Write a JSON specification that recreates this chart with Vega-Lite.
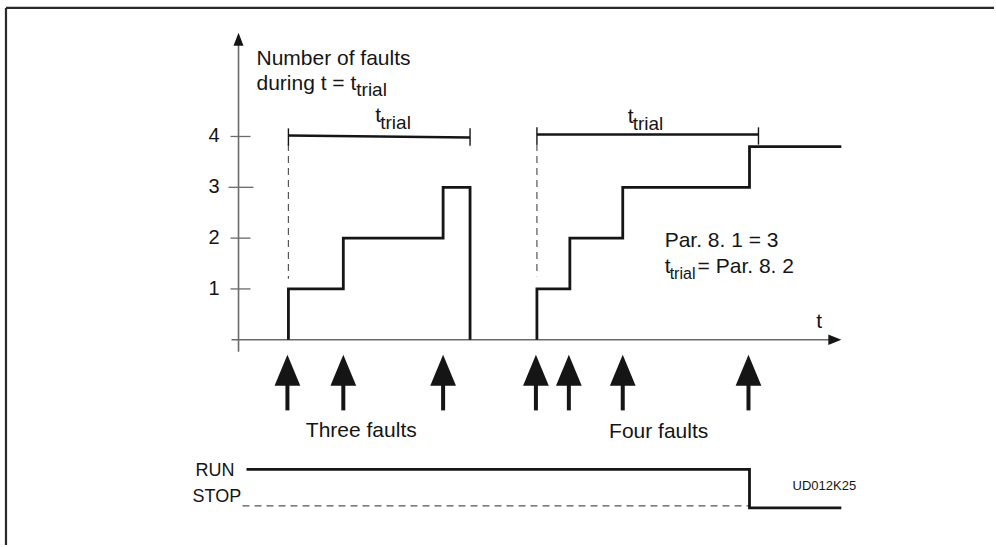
{
  "$schema": "https://vega.github.io/schema/vega-lite/v6.json",
  "width": 996,
  "height": 547,
  "autosize": {"type": "fit", "contains": "padding"},
  "padding": 0,
  "background": "white",
  "config": {"view": {"stroke": null}, "text": {"font": "Liberation Sans", "color": "#151515"}},
  "datasets": {
    "frame": [
      {"x": -23.3, "y": 6.53, "x2": 75.7, "y2": 6.53},
      {"x": -23.3, "y": 6.53, "x2": -23.3, "y2": -4.04}
    ],
    "axes": [
      {"x": 0, "y": -0.235, "x2": 0, "y2": 5.95},
      {"x": -0.7, "y": 0, "x2": 59.6, "y2": 0}
    ],
    "axisTips": [
      {"dir": "up", "x": 0, "y": 5.912},
      {"dir": "right", "x": 59.75, "y": 0}
    ],
    "ticks": [
      {"x": -0.8, "x2": 1.2, "y": 1, "label": "1"},
      {"x": -0.8, "x2": 1.2, "y": 2, "label": "2"},
      {"x": -1.0, "x2": 1.5, "y": 3, "label": "3"},
      {"x": -0.8, "x2": 1.2, "y": 4, "label": "4"}
    ],
    "signals": [
      {"series": "three", "i": 0, "x": 5.0, "y": 0},
      {"series": "three", "i": 1, "x": 5.0, "y": 1},
      {"series": "three", "i": 2, "x": 10.5, "y": 2},
      {"series": "three", "i": 3, "x": 20.5, "y": 3},
      {"series": "three", "i": 4, "x": 23.2, "y": 0},
      {"series": "four", "i": 0, "x": 29.9, "y": 0},
      {"series": "four", "i": 1, "x": 29.9, "y": 1},
      {"series": "four", "i": 2, "x": 33.2, "y": 2},
      {"series": "four", "i": 3, "x": 38.5, "y": 3},
      {"series": "four", "i": 4, "x": 51.2, "y": 3.8},
      {"series": "four", "i": 5, "x": 60.4, "y": 3.8},
      {"series": "run", "i": 0, "x": 0.8, "y": -2.55},
      {"series": "run", "i": 1, "x": 51.2, "y": -3.31},
      {"series": "run", "i": 2, "x": 60.4, "y": -3.31}
    ],
    "dashed": [
      {"x": 5.0, "y": 3.85, "x2": 5.0, "y2": 1.2},
      {"x": 29.9, "y": 3.85, "x2": 29.9, "y2": 1.25},
      {"x": 0.4, "y": -3.27, "x2": 51.2, "y2": -3.27}
    ],
    "trialBars": [
      {"x": 5.0, "y": 4.02, "x2": 23.2, "y2": 3.98},
      {"x": 29.9, "y": 4.04, "x2": 52.1, "y2": 4.04}
    ],
    "caps": [
      {"x": 5.0, "y": 4.16, "y2": 3.82},
      {"x": 23.2, "y": 4.16, "y2": 3.82},
      {"x": 29.9, "y": 4.18, "y2": 3.84},
      {"x": 52.1, "y": 4.18, "y2": 3.84}
    ],
    "faults": [
      {"x": 4.9}, {"x": 10.5}, {"x": 20.5},
      {"x": 29.8}, {"x": 33.1}, {"x": 38.5}, {"x": 51.1}
    ],
    "mainText": [
      {"x": 1.8, "y": 5.41, "text": "Number of faults"},
      {"x": 1.8, "y": 4.92, "text": "during t = t"},
      {"x": 13.7, "y": 4.29, "text": "t"},
      {"x": 39.0, "y": 4.27, "text": "t"},
      {"x": 42.7, "y": 1.82, "text": "Par. 8. 1 = 3"},
      {"x": 42.7, "y": 1.31, "text": "t"},
      {"x": 46.0, "y": 1.31, "text": "= Par. 8. 2"},
      {"x": 57.9, "y": 0.24, "text": "t"}
    ],
    "stateText": [
      {"x": -4.3, "y": -2.69, "text": "RUN"},
      {"x": -4.6, "y": -3.2, "text": "STOP"}
    ],
    "subText": [
      {"x": 11.8, "y": 4.80, "text": "trial"},
      {"x": 14.2, "y": 4.14, "text": "trial"},
      {"x": 39.5, "y": 4.12, "text": "trial"}
    ],
    "smallSubText": [
      {"x": 43.2, "y": 1.20, "text": "trial"}
    ],
    "centerText": [
      {"x": 12.3, "y": -1.92, "text": "Three faults"},
      {"x": 42.1, "y": -1.94, "text": "Four faults"}
    ],
    "codeText": [
      {"x": 58.7, "y": -2.88, "text": "UD012K25"}
    ]
  },
  "layer": [
    {
      "data": {"name": "frame"},
      "mark": {"type": "rule", "color": "#2a2a2a", "strokeWidth": 2.2},
      "encoding": {
        "x": {"field": "x", "type": "quantitative", "scale": {"domain": [-23.9, 75.7], "nice": false, "zero": false}, "axis": null},
        "y": {"field": "y", "type": "quantitative", "scale": {"domain": [-4.039, 6.686], "nice": false, "zero": false}, "axis": null},
        "x2": {"field": "x2"}, "y2": {"field": "y2"}
      }
    },
    {
      "data": {"name": "axes"},
      "mark": {"type": "rule", "color": "#6a6a6a", "strokeWidth": 1.6},
      "encoding": {
        "x": {"field": "x", "type": "quantitative", "scale": {"domain": [-23.9, 75.7], "nice": false, "zero": false}, "axis": null},
        "y": {"field": "y", "type": "quantitative", "scale": {"domain": [-4.039, 6.686], "nice": false, "zero": false}, "axis": null},
        "x2": {"field": "x2"}, "y2": {"field": "y2"}
      }
    },
    {
      "data": {"name": "axisTips"},
      "mark": {"type": "point", "filled": true, "opacity": 1, "size": 169, "color": "#151515"},
      "encoding": {
        "x": {"field": "x", "type": "quantitative", "scale": {"domain": [-23.9, 75.7], "nice": false, "zero": false}, "axis": null},
        "y": {"field": "y", "type": "quantitative", "scale": {"domain": [-4.039, 6.686], "nice": false, "zero": false}, "axis": null},
        "shape": {"field": "dir", "type": "nominal", "legend": null,
          "scale": {"domain": ["up", "right"], "range": ["M0,-1L0.77,1L-0.77,1Z", "M1,0L-1,0.8L-1,-0.8Z"]}}
      }
    },
    {
      "data": {"name": "ticks"},
      "mark": {"type": "rule", "color": "#6a6a6a", "strokeWidth": 1.3},
      "encoding": {
        "x": {"field": "x", "type": "quantitative", "scale": {"domain": [-23.9, 75.7], "nice": false, "zero": false}, "axis": null},
        "y": {"field": "y", "type": "quantitative", "scale": {"domain": [-4.039, 6.686], "nice": false, "zero": false}, "axis": null},
        "x2": {"field": "x2"}
      }
    },
    {
      "data": {"name": "ticks"},
      "mark": {"type": "text", "align": "right", "baseline": "middle", "fontSize": 20},
      "encoding": {
        "x": {"datum": -1.9, "type": "quantitative", "scale": {"domain": [-23.9, 75.7], "nice": false, "zero": false}, "axis": null},
        "y": {"field": "y", "type": "quantitative", "scale": {"domain": [-4.039, 6.686], "nice": false, "zero": false}, "axis": null},
        "text": {"field": "label"}
      }
    },
    {
      "data": {"name": "dashed"},
      "mark": {"type": "rule", "color": "#555555", "strokeWidth": 1.2, "strokeDash": [7, 5]},
      "encoding": {
        "x": {"field": "x", "type": "quantitative", "scale": {"domain": [-23.9, 75.7], "nice": false, "zero": false}, "axis": null},
        "y": {"field": "y", "type": "quantitative", "scale": {"domain": [-4.039, 6.686], "nice": false, "zero": false}, "axis": null},
        "x2": {"field": "x2"}, "y2": {"field": "y2"}
      }
    },
    {
      "data": {"name": "trialBars"},
      "mark": {"type": "rule", "color": "#151515", "strokeWidth": 2.6},
      "encoding": {
        "x": {"field": "x", "type": "quantitative", "scale": {"domain": [-23.9, 75.7], "nice": false, "zero": false}, "axis": null},
        "y": {"field": "y", "type": "quantitative", "scale": {"domain": [-4.039, 6.686], "nice": false, "zero": false}, "axis": null},
        "x2": {"field": "x2"}, "y2": {"field": "y2"}
      }
    },
    {
      "data": {"name": "caps"},
      "mark": {"type": "rule", "color": "#151515", "strokeWidth": 1.4},
      "encoding": {
        "x": {"field": "x", "type": "quantitative", "scale": {"domain": [-23.9, 75.7], "nice": false, "zero": false}, "axis": null},
        "y": {"field": "y", "type": "quantitative", "scale": {"domain": [-4.039, 6.686], "nice": false, "zero": false}, "axis": null},
        "y2": {"field": "y2"}
      }
    },
    {
      "data": {"name": "signals"},
      "mark": {"type": "line", "interpolate": "step-after", "color": "#151515", "strokeWidth": 2.8, "strokeJoin": "miter"},
      "encoding": {
        "x": {"field": "x", "type": "quantitative", "scale": {"domain": [-23.9, 75.7], "nice": false, "zero": false}, "axis": null},
        "y": {"field": "y", "type": "quantitative", "scale": {"domain": [-4.039, 6.686], "nice": false, "zero": false}, "axis": null},
        "detail": {"field": "series"},
        "order": {"field": "i", "type": "quantitative"}
      }
    },
    {
      "data": {"name": "faults"},
      "mark": {"type": "rule", "color": "#151515", "strokeWidth": 4},
      "encoding": {
        "x": {"field": "x", "type": "quantitative", "scale": {"domain": [-23.9, 75.7], "nice": false, "zero": false}, "axis": null},
        "y": {"datum": -0.85, "type": "quantitative", "scale": {"domain": [-4.039, 6.686], "nice": false, "zero": false}, "axis": null},
        "y2": {"datum": -1.39}
      }
    },
    {
      "data": {"name": "faults"},
      "mark": {"type": "point", "filled": true, "opacity": 1, "size": 961, "color": "#151515", "shape": "M0,-1L0.83,1L-0.83,1Z"},
      "encoding": {
        "x": {"field": "x", "type": "quantitative", "scale": {"domain": [-23.9, 75.7], "nice": false, "zero": false}, "axis": null},
        "y": {"datum": -0.598, "type": "quantitative", "scale": {"domain": [-4.039, 6.686], "nice": false, "zero": false}, "axis": null}
      }
    },
    {
      "data": {"name": "mainText"},
      "mark": {"type": "text", "align": "left", "baseline": "alphabetic", "fontSize": 21},
      "encoding": {
        "x": {"field": "x", "type": "quantitative", "scale": {"domain": [-23.9, 75.7], "nice": false, "zero": false}, "axis": null},
        "y": {"field": "y", "type": "quantitative", "scale": {"domain": [-4.039, 6.686], "nice": false, "zero": false}, "axis": null},
        "text": {"field": "text"}
      }
    },
    {
      "data": {"name": "stateText"},
      "mark": {"type": "text", "align": "left", "baseline": "alphabetic", "fontSize": 18},
      "encoding": {
        "x": {"field": "x", "type": "quantitative", "scale": {"domain": [-23.9, 75.7], "nice": false, "zero": false}, "axis": null},
        "y": {"field": "y", "type": "quantitative", "scale": {"domain": [-4.039, 6.686], "nice": false, "zero": false}, "axis": null},
        "text": {"field": "text"}
      }
    },
    {
      "data": {"name": "subText"},
      "mark": {"type": "text", "align": "left", "baseline": "alphabetic", "fontSize": 19},
      "encoding": {
        "x": {"field": "x", "type": "quantitative", "scale": {"domain": [-23.9, 75.7], "nice": false, "zero": false}, "axis": null},
        "y": {"field": "y", "type": "quantitative", "scale": {"domain": [-4.039, 6.686], "nice": false, "zero": false}, "axis": null},
        "text": {"field": "text"}
      }
    },
    {
      "data": {"name": "smallSubText"},
      "mark": {"type": "text", "align": "left", "baseline": "alphabetic", "fontSize": 16},
      "encoding": {
        "x": {"field": "x", "type": "quantitative", "scale": {"domain": [-23.9, 75.7], "nice": false, "zero": false}, "axis": null},
        "y": {"field": "y", "type": "quantitative", "scale": {"domain": [-4.039, 6.686], "nice": false, "zero": false}, "axis": null},
        "text": {"field": "text"}
      }
    },
    {
      "data": {"name": "centerText"},
      "mark": {"type": "text", "align": "center", "baseline": "alphabetic", "fontSize": 21},
      "encoding": {
        "x": {"field": "x", "type": "quantitative", "scale": {"domain": [-23.9, 75.7], "nice": false, "zero": false}, "axis": null},
        "y": {"field": "y", "type": "quantitative", "scale": {"domain": [-4.039, 6.686], "nice": false, "zero": false}, "axis": null},
        "text": {"field": "text"}
      }
    },
    {
      "data": {"name": "codeText"},
      "mark": {"type": "text", "align": "center", "baseline": "middle", "fontSize": 13},
      "encoding": {
        "x": {"field": "x", "type": "quantitative", "scale": {"domain": [-23.9, 75.7], "nice": false, "zero": false}, "axis": null},
        "y": {"field": "y", "type": "quantitative", "scale": {"domain": [-4.039, 6.686], "nice": false, "zero": false}, "axis": null},
        "text": {"field": "text"}
      }
    }
  ]
}
